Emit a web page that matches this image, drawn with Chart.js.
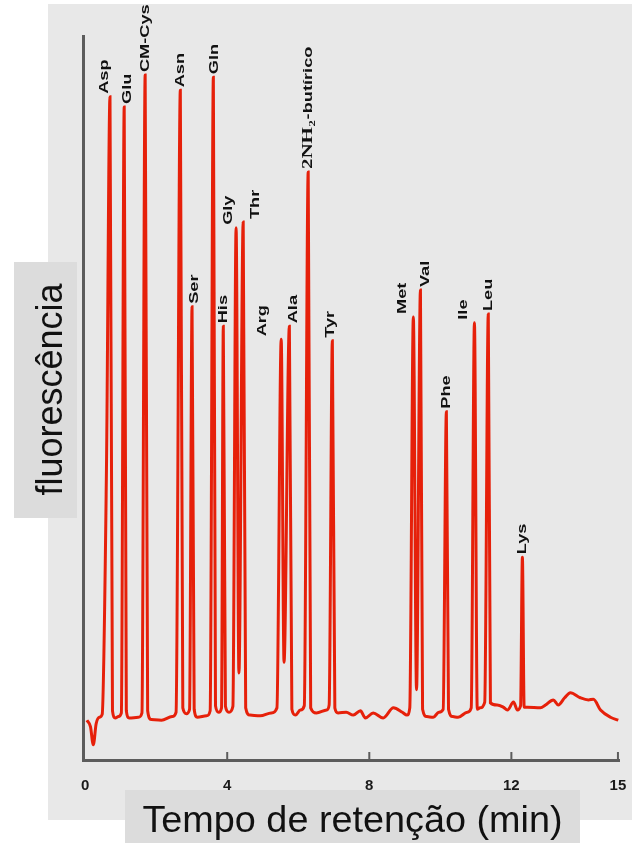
<!DOCTYPE html>
<html>
<head>
<meta charset="utf-8">
<script src="https://cdn.jsdelivr.net/npm/chart.js@4.4.1/dist/chart.umd.min.js"></script>
<style>
  body { margin: 0; background: #fff; width: 636px; height: 843px; overflow: hidden; position: relative; font-family: 'Liberation Sans', Arial, sans-serif; }
  #panel { position: absolute; left: 48px; top: 4px; width: 584px; height: 816px; background: #e8e8e8; }
  #wrap { position: absolute; left: 0; top: 0; width: 636px; height: 843px; }
  #ytitle { position: absolute; left: 14px; top: 262px; width: 63px; height: 256px; background: #dcdcdc; }
  #ytitle span { position: absolute; left: -96px; top: 96px; width: 256px; height: 63px; line-height: 63px; padding-top: 3px; box-sizing: border-box;
    text-align: center; font-size: 36px; color: #111; transform: rotate(-90deg); white-space: nowrap; }
  #xtitle { position: absolute; left: 125px; top: 790px; width: 455px; height: 53px; background: #dcdcdc; }
  #xtitle span { display: block; width: 455px; line-height: 53px; padding-top: 3px; text-align: center; font-size: 36px; color: #111;
    transform: scaleX(1.05); white-space: nowrap; }
</style>
</head>
<body>
<div id="panel"></div>
<div id="wrap"><canvas id="chromatogram"></canvas></div>
<div id="ytitle"><span>fluorescência</span></div>
<div id="xtitle"><span>Tempo de retenção (min)</span></div>
<script>
// picos identificados
const peakNames = ['Asp', 'Glu', 'CM-Cys', 'Asn', 'Ser', 'Gln', 'His', 'Gly', 'Thr', 'Arg', 'Ala',
  '2NH2-butírico', 'Tyr', 'Met', 'Val', 'Phe', 'Ile', 'Leu', 'Lys'];
const peakTimes = [0.70, 1.10, 1.69, 2.68, 3.01, 3.61, 3.89, 4.25, 4.45, 5.52, 5.75,
  6.28, 6.96, 9.24, 9.44, 10.17, 10.96, 11.35, 12.31];
const peakHeights = [91.6, 90.2, 94.6, 92.5, 62.6, 94.3, 59.9, 73.5, 74.3, 58.1, 59.9,
  81.2, 57.9, 61.2, 64.9, 48.1, 60.4, 61.6, 28.0];

const xTicks = [0, 4, 8, 12, 15];

// traço do cromatograma [tempo, sinal]
const tracePoints = [
  [0.05, 5.5], [0.15, 4.6], [0.23, 2.1], [0.31, 5.0], [0.40, 5.9],
  [0.48, 6.3], [0.60, 40.0], [0.70, 91.6], [0.77, 6.8], [0.85, 5.8], [0.94, 6.0],
  [1.02, 6.5], [1.10, 90.2], [1.16, 6.8], [1.24, 5.8], [1.50, 5.9],
  [1.60, 6.5], [1.69, 94.6], [1.76, 6.8], [1.86, 5.6], [2.15, 5.5], [2.45, 6.0],
  [2.56, 6.6], [2.68, 92.5], [2.75, 7.2], [2.85, 6.4],
  [2.94, 7.0], [3.01, 62.6], [3.07, 7.0], [3.16, 5.9], [3.42, 6.1],
  [3.52, 6.8], [3.61, 94.3], [3.67, 7.5], [3.76, 6.6],
  [3.84, 7.2], [3.89, 59.9], [3.95, 7.4], [4.05, 6.6],
  [4.16, 7.4], [4.25, 73.5], [4.33, 12.0], [4.45, 74.3], [4.52, 7.2],
  [4.64, 6.2], [4.93, 6.1], [5.24, 6.5],
  [5.40, 7.2], [5.52, 58.1], [5.60, 13.5], [5.75, 59.9], [5.82, 7.0],
  [5.92, 6.2], [6.06, 6.9],
  [6.17, 7.5], [6.28, 81.2], [6.35, 7.2], [6.51, 6.5], [6.80, 6.9],
  [6.87, 7.6], [6.96, 57.9], [7.03, 7.2],
  [7.12, 6.5], [7.35, 6.6], [7.55, 6.2], [7.75, 6.8], [7.89, 5.8], [8.11, 6.5],
  [8.39, 5.8], [8.68, 7.2], [8.93, 6.6], [9.06, 6.2],
  [9.14, 7.2], [9.24, 61.2], [9.33, 9.7], [9.44, 64.9], [9.50, 7.0],
  [9.62, 6.0], [9.80, 5.9], [9.96, 6.6],
  [10.08, 7.0], [10.17, 48.1], [10.23, 7.0], [10.35, 6.0], [10.50, 5.9], [10.76, 6.6],
  [10.87, 7.2], [10.96, 60.4], [11.04, 7.0], [11.12, 7.2],
  [11.25, 8.0], [11.35, 61.6], [11.41, 7.9],
  [11.60, 7.6], [11.77, 7.3], [11.89, 6.9], [12.06, 8.0], [12.17, 6.9],
  [12.26, 7.5], [12.31, 28.0], [12.36, 7.3],
  [12.45, 7.3], [12.82, 7.2], [12.96, 7.6], [13.18, 8.3], [13.32, 7.6], [13.50, 8.6],
  [13.66, 9.3], [13.94, 8.6], [14.17, 8.3], [14.31, 8.4], [14.51, 6.9], [14.79, 5.9], [15.01, 5.5]
];

const peakLabels = {
  id: 'peakLabels',
  afterDatasetsDraw(chart, args, opts) {
    const { ctx, scales: { x, y } } = chart;
    ctx.save();
    // marcas do eixo x, para dentro
    ctx.strokeStyle = '#5c5c5c';
    ctx.lineWidth = 2;
    xTicks.forEach(v => {
      if (v === 0) return;
      const px = x.getPixelForValue(v);
      ctx.beginPath();
      ctx.moveTo(px, y.bottom);
      ctx.lineTo(px, y.bottom - 8);
      ctx.stroke();
    });

    ctx.fillStyle = '#111';
    peakNames.forEach((name, i) => {
      const px = x.getPixelForValue(peakTimes[i]) + (opts.nudge[i] || 0);
      const py = y.getPixelForValue(peakHeights[i]) - 3;
      ctx.save();
      ctx.translate(px, py);
      ctx.rotate(-Math.PI / 2);
      ctx.scale(opts.stretch, 1);
      ctx.textAlign = 'left';
      ctx.textBaseline = 'middle';
      const m = name.match(/^(2NH)2(.*)$/);
      if (m) {
        ctx.font = "bold 15px 'Liberation Serif'";
        ctx.fillText(m[1], 0, 0);
        let w = ctx.measureText(m[1]).width;
        ctx.font = "bold 9px 'Liberation Serif'";
        ctx.fillText('2', w + 0.5, 4);
        w += ctx.measureText('2').width + 1;
        ctx.font = opts.font;
        ctx.fillText(m[2], w, 0);
      } else {
        ctx.font = opts.font;
        ctx.fillText(name, 0, 0);
      }
      ctx.restore();
    });
    ctx.restore();
  }
};

new Chart(document.getElementById('chromatogram'), {
  type: 'line',
  data: {
    datasets: [{
      data: tracePoints.map(([t, s]) => ({ x: t, y: s })),
      borderColor: 'rgb(230,32,10)',
      borderWidth: 3,
      pointRadius: 0,
      fill: false,
      cubicInterpolationMode: 'monotone'
    }]
  },
  options: {
    responsive: true,
    maintainAspectRatio: false,
    animation: false,
    layout: { padding: { left: 83, right: 17, top: 36, bottom: 0 } },
    plugins: {
      legend: { display: false },
      tooltip: { enabled: false },
      peakLabels: {
        font: "bold 13px 'Liberation Sans'",
        stretch: 1.4,
        nudge: [-6, 3, 0, 0, 2, 1, 0, -8, 12, -19, 4, 0, -2, -11, 5, 0, -11, 0, 0]
      }
    },
    scales: {
      x: {
        type: 'linear',
        min: -0.06,
        max: 15.03,
        afterFit: s => { s.height = 83; },
        afterBuildTicks: s => { s.ticks = xTicks.map(v => ({ value: v })); },
        grid: { display: false },
        border: { color: '#5c5c5c', width: 3 },
        ticks: {
          autoSkip: false,
          maxRotation: 0,
          padding: 9,
          color: '#1a1a1a',
          font: { family: 'Liberation Sans', size: 15, weight: 'bold' }
        }
      },
      y: {
        min: 0,
        max: 100,
        afterFit: s => { s.width = 0; },
        grid: { display: false },
        border: { color: '#5c5c5c', width: 3 },
        ticks: { display: false }
      }
    }
  },
  plugins: [peakLabels]
});
</script>
</body>
</html>
